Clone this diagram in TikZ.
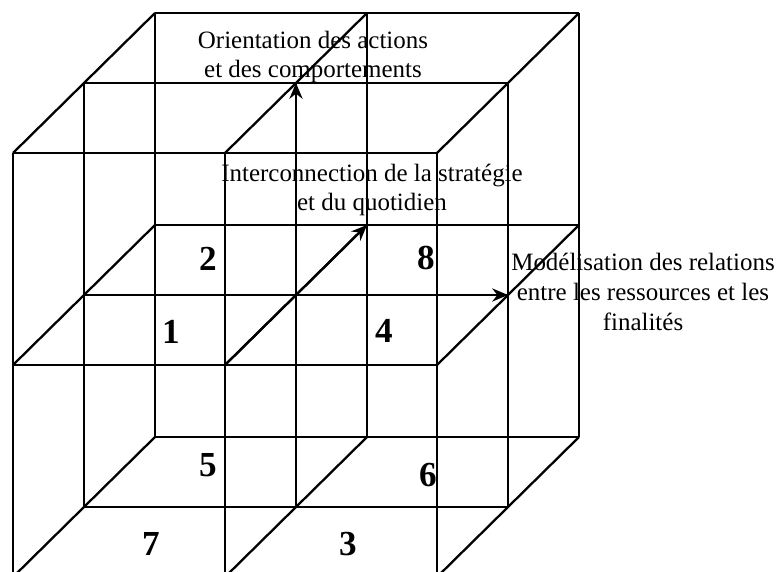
\documentclass[tikz,border=0pt]{standalone}
\usepackage{fontspec}
\setmainfont{Liberation Serif}
\usetikzlibrary{arrows.meta}

\begin{document}
\begin{tikzpicture}[
    x=1cm, y=1cm,
    grid/.style={draw=black, line width=1.3pt},
    axis/.style={grid, -{Stealth[length=9pt, width=7.5pt]}},
    cell/.style={font=\fontsize{20}{24}\selectfont\bfseries, inner sep=0pt},
    caption/.style={font=\fontsize{14.2}{17}\selectfont, align=center,
        inner sep=0pt},
]
    \useasboundingbox (0, 0) rectangle (15.56, 11.42);
    \clip (0, 0) rectangle (15.56, 11.42);

    %% the cube, cut into eight cells: a lattice of 3 x 3 x 3 points
    \begin{scope}[shift={(.26, -.12)}, x={(4.24cm, 0)}, y={(0, 4.24cm)},
        z={(1.42cm, 1.4cm)}]
        \foreach \i in {0, 1, 2}
            \foreach \j in {0, 1, 2} {
                \draw[grid] (0, \i, \j) -- (2, \i, \j);  % left to right
                \draw[grid] (\i, 0, \j) -- (\i, 2, \j);  % bottom to top
                \draw[grid] (\i, \j, 0) -- (\i, \j, 2);  % front to back
            }
        % the ends of the three axes through the centre
        \coordinate (west) at (0, 1, 1);
        \coordinate (east) at (2, 1, 1);
        \coordinate (bottom) at (1, 0, 1);
        \coordinate (top) at (1, 2, 1);
        \coordinate (front) at (1, 1, 0);
        \coordinate (back) at (1, 1, 2);
    \end{scope}

    %% the three axes
    \draw[axis] (bottom) -- (top);
    \draw[axis] (front) -- (back);
    \draw[axis] (west) -- (east);

    %% the numbers of the cells
    \node[cell] (c1) at (3.42, 4.78) {1};
    \node[cell] (c2) at (4.16, 6.24) {2};
    \node[cell] (c3) at (6.96, .54) {3};
    \node[cell] (c4) at (7.68, 4.80) {4};
    \node[cell] (c5) at (4.16, 2.12) {5};
    \node[cell] (c6) at (8.56, 1.92) {6};
    \node[cell] (c7) at (3.02, .54) {7};
    \node[cell] (c8) at (8.52, 6.26) {8};

    %% labels of the axes
    \node[caption] (orientation) at (6.26, 10.28)
        {Orientation des actions\\et des comportements};
    \node[caption] (interconnection) at (7.44, 7.62)
        {Interconnection de la stratégie\\et du quotidien};
    \node[caption] (modelisation) at (12.86, 5.58)
        {Modélisation des relations\\entre les ressources et les\\finalités};
\end{tikzpicture}
\end{document}
